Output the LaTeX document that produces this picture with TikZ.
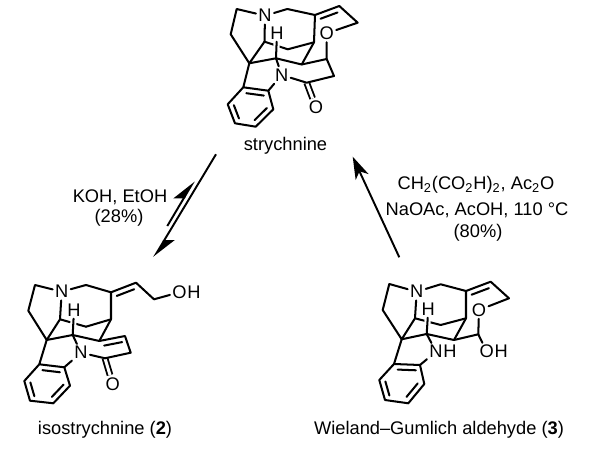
\documentclass[tikz,border=0pt]{standalone}
\usepackage{fontspec}
\setmainfont{Liberation Sans}
\usetikzlibrary{arrows.meta,calc}

\begin{document}
\begin{tikzpicture}[x=0.02cm,y=-0.02cm, every node/.style={font=\fontsize{10.4}{12.5}\selectfont}]
\tikzset{atom/.style = {inner sep=1.2pt}}
\tikzset{tail/.style = {inner sep=0pt, anchor=west, xshift=-1.2pt}}
\tikzset{caption/.style = {inner sep=0pt}}
\tikzset{bond/.style = {line width=1.15pt, line cap=round, line join=round}}
\tikzset{inbond/.style = {bond, to path={($(\tikztostart)!.15!(\tikztotarget)!3.1pt!90:(\tikztotarget)$) -- ($(\tikztotarget)!.15!(\tikztostart)!3.1pt!-90:(\tikztostart)$)}}}
\tikzset{dblbond/.style = {line width=1.05pt, double, double distance=1.7pt}}
\tikzset{front/.style = {bond, preaction={draw=white, line width=3.5pt}}}
\tikzset{edge/.style = {line width=1.1pt, -{Stealth[length=12.7pt, width=8pt, inset=3.5pt]}}}
\tikzset{halfedge/.style = {line width=1.1pt, -{Stealth[length=13pt, width=10pt, inset=3pt, left]}}}
\useasboundingbox (0,0) rectangle (600,459);

% strychnine
\node[atom] (N1) at (265,15.7) {N};
\node[atom] (Nb1) at (281.7,75) {N};
\node[atom] (O1) at (326.7,33.3) {O};
\node[atom] (Oc1) at (316,107.3) {O};
\node[atom] (H1) at (277,33) {H};
\coordinate (a1) at (236.7,9);
\coordinate (b1) at (230.7,34.3);
\coordinate (c1) at (249.3,63.3);
\coordinate (d1) at (264.5,41.7);
\coordinate (e1) at (287.3,9);
\coordinate (f1) at (315,15);
\coordinate (g1) at (339.3,6);
\coordinate (h1) at (357.7,22.7);
\coordinate (i1) at (314,42.3);
\coordinate (j1) at (301.7,64.5);
\coordinate (k1) at (287.8,49.3);
\coordinate (m1) at (276,58.3);
\coordinate (p1) at (306.7,82.7);
\coordinate (q1) at (334,76);
\coordinate (r1) at (326.7,59);
\coordinate (s1) at (243.3,87.3);
\coordinate (t1) at (268.3,90.7);
\coordinate (u1) at (273.3,109.3);
\coordinate (v1) at (255.7,126.7);
\coordinate (w1) at (235,123.3);
\coordinate (x1) at (227.7,104.3);

% isostrychnine
\node[atom] (N2) at (61.7,291.7) {N};
\node[atom] (Nb2) at (81,352.7) {N};
\node[atom] (O2) at (179.5,292.3) {O};
\node[tail] (Oh2) at (O2.east) {H};
\node[atom] (Oc2) at (112.7,384) {O};
\node[atom] (H2) at (74,310) {H};
\coordinate (a2) at (35,285);
\coordinate (b2) at (28.3,310.7);
\coordinate (c2) at (46.7,340);
\coordinate (d2) at (60,319.3);
\coordinate (e2) at (86,285);
\coordinate (f2) at (111,292.3);
\coordinate (g2) at (136,282.7);
\coordinate (h2) at (154,299.3);
\coordinate (i2) at (111,319.3);
\coordinate (j2) at (99.3,341);
\coordinate (k2) at (86,326.7);
\coordinate (m2) at (72.7,335);
\coordinate (p2) at (105,358.3);
\coordinate (q2) at (130.7,352.7);
\coordinate (r2) at (125,336);
\coordinate (s2) at (39.3,364.3);
\coordinate (t2) at (64.3,367.3);
\coordinate (u2) at (70,385.7);
\coordinate (v2) at (53.3,403.3);
\coordinate (w2) at (30,400.7);
\coordinate (x2) at (24.3,381);

% Wieland-Gumlich aldehyde
\node[atom] (N3) at (416.7,291.7) {N};
\node[atom] (Nb3) at (436,351.7) {N};
\node[tail] (Nh3) at (Nb3.east) {H};
\node[atom] (O3) at (479,310) {O};
\node[atom] (Ob3) at (486.7,351.7) {O};
\node[tail] (Oh3) at (Ob3.east) {H};
\node[atom] (H3) at (428.3,309) {H};
\coordinate (a3) at (389.3,284);
\coordinate (b3) at (382.7,310);
\coordinate (c3) at (401.7,339.3);
\coordinate (d3) at (415,318.3);
\coordinate (e3) at (440.7,284.3);
\coordinate (f3) at (466,291);
\coordinate (g3) at (490.7,281.7);
\coordinate (h3) at (509,298.3);
\coordinate (i3) at (466,318.3);
\coordinate (j3) at (454,340);
\coordinate (k3) at (440.7,325);
\coordinate (m3) at (426.7,334);
\coordinate (r3) at (478.3,334.3);
\coordinate (s3) at (394,364);
\coordinate (t3) at (420,365);
\coordinate (u3) at (424.3,384);
\coordinate (v3) at (408.3,403.3);
\coordinate (w3) at (385,400);
\coordinate (x3) at (379.3,380);

% captions
\node[caption] (name1) at (285.5,146) {strychnine};
\node[caption] (name2) at (105,430) {isostrychnine (\textbf{2})};
\node[caption] (name3) at (439,430) {Wieland–Gumlich aldehyde (\textbf{3})};
\node[caption] (koh) at (120,197) {KOH, EtOH};
\node[caption] (yield2) at (119,218) {(28\%)};
\node[caption] (malonic) at (476,185) {CH\textsubscript{2}(CO\textsubscript{2}H)\textsubscript{2}, Ac\textsubscript{2}O};
\node[caption] (naoac) at (477,210) {NaOAc, AcOH, 110 °C};
\node[caption] (yield3) at (478,233) {(80\%)};

% arrow ends
\coordinate (fwdA) at (216,154.3);
\coordinate (fwdB) at (154,257.3);
\coordinate (backA) at (167.3,226);
\coordinate (backB) at (194,181);
\coordinate (aldA) at (399.3,257.3);
\coordinate (aldB) at (352.7,156.7);

%edges
\draw[halfedge] (fwdA) to (fwdB);
\draw[halfedge] (backA) to (backB);
\draw[edge] (aldA) to (aldB);

\draw[bond] (d1) to (k1);
\draw[front] (H1) to (m1);
\draw[dblbond] (p1) to (Oc1);
\draw[bond] (N1) to (a1) to (b1) to (c1) to (d1) to (N1);
\draw[bond] (N1) to (e1) to (f1) to (g1) to (h1) to (O1) to (r1) to (q1) to (p1) to (Nb1) to (m1) to (c1);
\draw[bond] (f1) to (i1) to (j1) to (m1);
\draw[bond] (k1) to (i1);
\draw[bond] (j1) to (r1);
\draw[bond] (c1) to (s1) to (t1) to (u1) to (v1) to (w1) to (x1) to (s1);
\draw[bond] (t1) to (Nb1);
\draw[inbond] (g1) to (f1);
\draw[inbond] (t1) to (s1);
\draw[inbond] (v1) to (u1);
\draw[inbond] (x1) to (w1);

\draw[bond] (d2) to (k2);
\draw[front] (H2) to (m2);
\draw[dblbond] (p2) to (Oc2);
\draw[bond] (N2) to (a2) to (b2) to (c2) to (d2) to (N2);
\draw[bond] (N2) to (e2) to (f2) to (g2) to (h2) to (O2);
\draw[bond] (f2) to (i2) to (j2) to (m2) to (c2);
\draw[bond] (k2) to (i2);
\draw[bond] (m2) to (Nb2) to (p2) to (q2) to (r2) to (j2);
\draw[bond] (c2) to (s2) to (t2) to (u2) to (v2) to (w2) to (x2) to (s2);
\draw[bond] (t2) to (Nb2);
\draw[inbond] (g2) to (f2);
\draw[inbond] (r2) to (j2);
\draw[inbond] (t2) to (s2);
\draw[inbond] (v2) to (u2);
\draw[inbond] (x2) to (w2);

\draw[bond] (d3) to (k3);
\draw[front] (H3) to (m3);
\draw[bond] (N3) to (a3) to (b3) to (c3) to (d3) to (N3);
\draw[bond] (N3) to (e3) to (f3) to (g3) to (h3) to (O3) to (r3) to (j3) to (m3) to (c3);
\draw[bond] (f3) to (i3) to (j3);
\draw[bond] (k3) to (i3);
\draw[bond] (r3) to (Ob3);
\draw[bond] (m3) to (Nb3) to (t3);
\draw[bond] (c3) to (s3) to (t3) to (u3) to (v3) to (w3) to (x3) to (s3);
\draw[inbond] (g3) to (f3);
\draw[inbond] (t3) to (s3);
\draw[inbond] (v3) to (u3);
\draw[inbond] (x3) to (w3);
\end{tikzpicture}
\end{document}
